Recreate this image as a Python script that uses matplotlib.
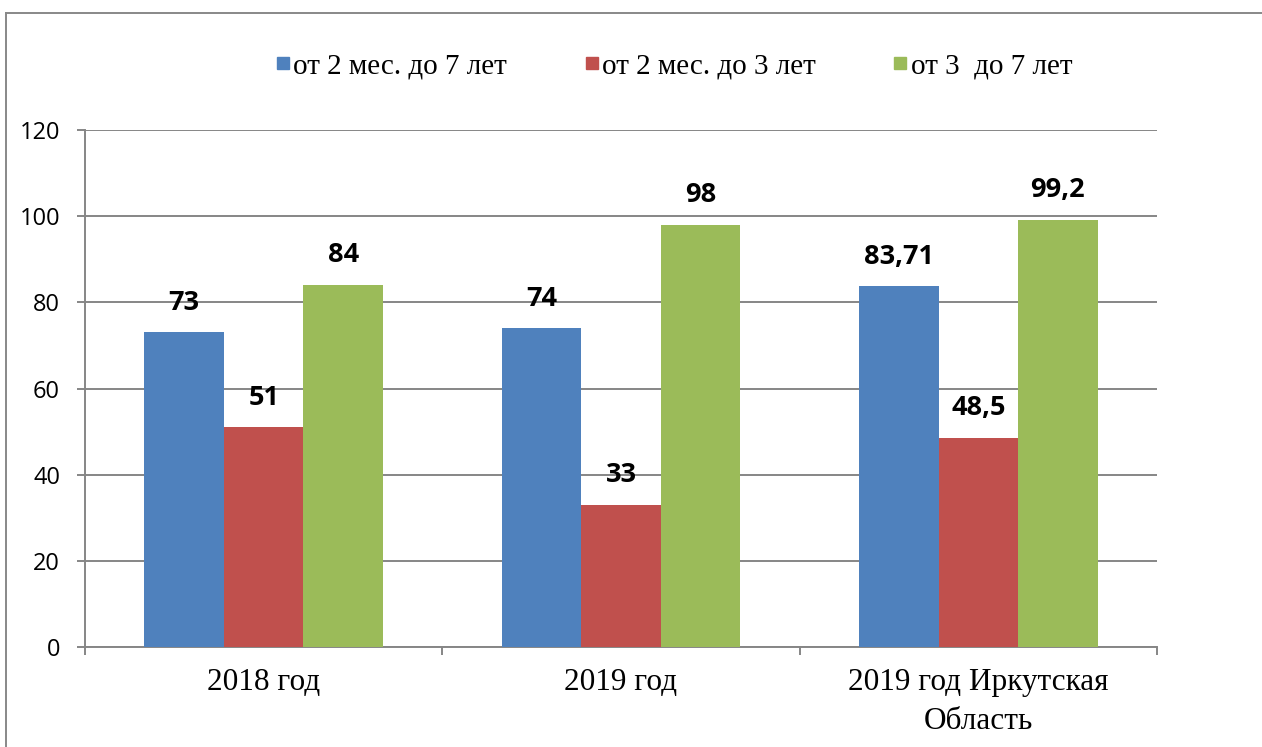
import numpy as np
import matplotlib.pyplot as plt
from matplotlib.lines import Line2D

categories = ["2018 год", "2019 год", "2019 год Иркутская\nОбласть"]
series_names = ["от 2 мес. до 7 лет", "от 2 мес. до 3 лет", "от 3  до 7 лет"]
vals_2m_7 = [73, 74, 83.71]
vals_2m_3 = [51, 33, 48.5]
vals_3_7 = [84, 98, 99.2]
colors = ["#4F81BD", "#C0504D", "#9BBB59"]
yticks = [0, 20, 40, 60, 80, 100, 120]

W, H = 1262, 747
fig = plt.figure(figsize=(W / 100, H / 100), dpi=100)
ax = fig.add_axes([85 / W, 1 - 647 / H, (1157 - 85) / W, (647 - 130) / H])

serif = "Liberation Serif"
sans = "Open Sans"

x = np.arange(len(categories))
bw = 0.2225
series = [vals_2m_7, vals_2m_3, vals_3_7]
for i, (vals, c) in enumerate(zip(series, colors)):
    pos = x + (i - 1) * bw
    ax.bar(pos, vals, width=bw, color=c, zorder=3)
    for px, v in zip(pos, vals):
        ax.annotate(f"{v:g}".replace(".", ","), (px, v), xytext=(0, 12),
                    textcoords="offset points", ha="center", va="bottom",
                    fontsize=19.5, fontweight="bold", family=sans, color="black")

ax.set_xlim(-0.5, 2.5)
ax.set_ylim(0, 120)
ax.set_yticks(yticks)
ax.set_yticklabels([str(t) for t in yticks], family=sans, fontsize=17)
ax.grid(axis="y", color="#868686", lw=1.4, zorder=0)

ax.set_xticks(x)
ax.set_xticklabels(categories, family=serif, fontsize=22.5, linespacing=1.45)
ax.tick_params(axis="x", which="major", length=0, pad=15)
ax.set_xticks([-0.5, 0.5, 1.5, 2.5], minor=True)
ax.tick_params(axis="x", which="minor", length=6, width=1.4, color="#868686")
ax.tick_params(axis="y", length=6, width=1.4, color="#868686", pad=12)

for s in ["top", "right"]:
    ax.spines[s].set_visible(False)
for s in ["left", "bottom"]:
    ax.spines[s].set_color("#868686")
    ax.spines[s].set_linewidth(1.4)

# legend
handles = [Line2D([], [], marker="s", linestyle="none", markersize=9,
                  markerfacecolor=c, markeredgecolor=c) for c in colors]
fig.legend(handles, series_names, loc="center", bbox_to_anchor=(674 / W, 1 - 66 / H),
           ncol=3, frameon=False, handlelength=0.5, handletextpad=0.1,
           columnspacing=2.65, prop={"family": serif, "size": 21})

# outer frame (left and top edges)
fig.add_artist(Line2D([6 / W, 6 / W], [0, 1 - 13 / H], color="#888888", lw=1.4,
                      transform=fig.transFigure))
fig.add_artist(Line2D([6 / W, 1], [1 - 13 / H, 1 - 13 / H], color="#888888", lw=1.4,
                      transform=fig.transFigure))

fig.savefig("out.png", dpi=100)
